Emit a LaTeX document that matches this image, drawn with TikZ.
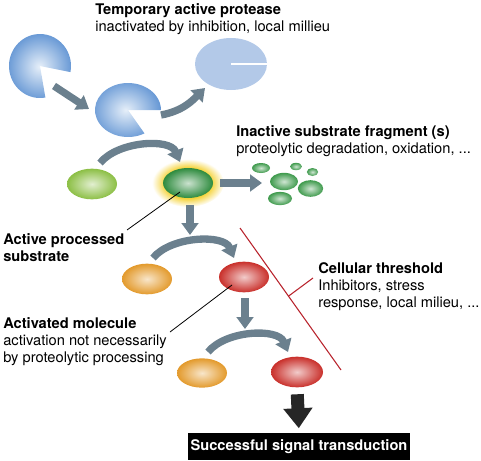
\documentclass[tikz,border=0pt]{standalone}
\usepackage{fontspec}
\setmainfont{TeX Gyre Heros}
\usetikzlibrary{shapes.geometric,arrows.meta,calc,positioning}
\usepackage{xcolor}

\definecolor{protblue}{HTML}{6496D4}
\definecolor{protlight}{HTML}{E6EFF9}
\definecolor{inactblue}{HTML}{B3C9E8}
\definecolor{flowgray}{HTML}{6B808E}
\definecolor{subgreen}{HTML}{8CBF45}
\definecolor{actgreen}{HTML}{2E8B3E}
\definecolor{fraggreen}{HTML}{3E9A4C}
\definecolor{molorange}{HTML}{E39A2C}
\definecolor{molred}{HTML}{C9302B}
\definecolor{glowyellow}{HTML}{F5D33A}
\definecolor{thrred}{HTML}{B8232C}

\pgfdeclareradialshading{glow}{\pgfpoint{0bp}{0bp}}{color(0bp)=(glowyellow); color(16bp)=(glowyellow); color(25bp)=(white); color(50bp)=(white)}

\begin{document}
\begin{tikzpicture}[x=0.75pt,y=-0.75pt,
            mol/.style={ellipse,inner sep=0pt,minimum width=37.5pt,minimum height=23pt,shading=radial,inner color=#1!25!white,outer color=#1},
            frag/.style={ellipse,inner sep=0pt,shading=radial,inner color=fraggreen!25!white,outer color=fraggreen},
            flow/.style={draw=flowgray,line width=5.5pt,-{Triangle[width=12.5pt,length=9pt]}},
            lbl/.style={align=left,inner sep=0pt,anchor=north west,font=\fontsize{11}{13}\selectfont},
            pointer/.style={draw=black,line width=0.6pt},
            thr/.style={draw=thrred,line width=0.8pt}]
   \useasboundingbox (0,0) rectangle (481,460);

   % proteases
   \coordinate (pac1) at (40,66);
   \coordinate (pac2) at (128,110);
   \shade[inner color=protlight,outer color=protblue] (pac1) -- ++(80:31 and 32) arc[start angle=80,end angle=371,x radius=31,y radius=32] -- cycle;
   \shade[inner color=protlight,outer color=protblue] (pac2) -- ++(60:33 and 27) arc[start angle=60,end angle=360,x radius=33,y radius=27] -- cycle;
   \node[ellipse,fill=inactblue,inner sep=0pt,minimum width=54pt,minimum height=39pt] (inact) at (231,64) {};
   \draw[white,line width=1.5pt] (inact.center) -- (inact.east);

   % substrates
   \node[mol=subgreen] (sub) at (92,184) {};
   \shade[shading=glow] (188,183) ellipse [x radius=36,y radius=24];
   \node[mol=actgreen,minimum height=22.5pt] (act) at (188,183) {};
   \node[frag,minimum width=13.5pt,minimum height=7.5pt] (f1) at (261,168) {};
   \node[frag,minimum width=9pt,minimum height=5.5pt] (f2) at (296,166.5) {};
   \node[frag,minimum width=8.5pt,minimum height=6pt] (f3) at (312.5,172) {};
   \node[frag,minimum width=21pt,minimum height=13pt] (f4) at (284,181.5) {};
   \node[frag,minimum width=19pt,minimum height=12.5pt] (f5) at (310.5,188.5) {};
   \node[frag,minimum width=18pt,minimum height=10pt] (f6) at (280,198.5) {};
   \node[mol=molorange] (or1) at (147,279) {};
   \node[mol=molred] (red1) at (244,277) {};
   \node[mol=molorange,minimum height=22pt] (or2) at (202,373) {};
   \node[mol=molred,minimum width=39pt] (red2) at (297,372) {};

   % arrows
   \draw[flow] ([shift={(14,20)}]pac1) -- ([shift={(-39,-1)}]pac2);
   \draw[flow] ([shift={(33,5)}]pac2) .. controls +(22,-4) and +(-12,12) .. ([shift={(-26,24)}]inact.center);
   \draw[flow] ([shift={(8,-21)}]sub.center) .. controls +(18,-22) and +(-10,-24) .. ([shift={(-8,-21)}]act.center);
   \draw[flow] ([xshift=5pt]act.east) -- ([shift={(-22,1.5)}]f4.center);
   \draw[flow] ([shift={(2,22)}]act.center) -- ([shift={(2,52)}]act.center);
   \draw[flow] ([shift={(6,-21)}]or1.center) .. controls +(18,-22) and +(-10,-24) .. ([shift={(-10,-19)}]red1.center);
   \draw[flow] ([shift={(1,21)}]red1.center) -- ([shift={(1,52)}]red1.center);
   \draw[flow] ([shift={(6,-21)}]or2.center) .. controls +(18,-22) and +(-10,-24) .. ([shift={(-9,-20)}]red2.center);

   % result
   \node[fill=black,text=white,inner sep=0pt,minimum width=166.5pt,minimum height=20pt,font=\fontsize{11}{13}\selectfont\bfseries] (signal) at (299,446.5) {Successful signal transduction};
   \draw[draw=black!85,line width=9.75pt,-{Triangle[width=21pt,length=15pt]},shorten <=5pt,shorten >=3.5pt] (red2.south) -- (signal.north);

   % threshold
   \coordinate (thrtop) at (240,228);
   \coordinate (thrbot) at (341,370);
   \coordinate (thrtick) at (313,278);
   \draw[thr] (thrtop) -- (thrbot);
   \draw[thr] ($(thrtop)!0.48!(thrbot)$) -- (thrtick);

   % labels
   \node[lbl] (protlbl) at (95,3) {\textbf{Temporary active protease}\\inactivated by inhibition, local millieu};
   \node[lbl] (fraglbl) at (236,125) {\textbf{Inactive substrate fragment (s)}\\proteolytic degradation, oxidation, ...};
   \node[lbl] (actlbl) at (3,233) {\textbf{Active processed}\\\textbf{substrate}};
   \node[lbl] (thrlbl) at (318,262) {\textbf{Cellular threshold}\\Inhibitors, stress\\response, local milieu, ...};
   \node[lbl] (mollbl) at (3,317) {\textbf{Activated molecule}\\activation not necessarily\\by proteolytic processing};
   \coordinate (actptr) at (127,230);
   \coordinate (molptr) at (170,332);
   \draw[pointer] (actptr) -- ([shift={(-8,9)}]act.center);
   \draw[pointer] (molptr) -- ([shift={(-12,8)}]red1.center);
\end{tikzpicture}
\end{document}
